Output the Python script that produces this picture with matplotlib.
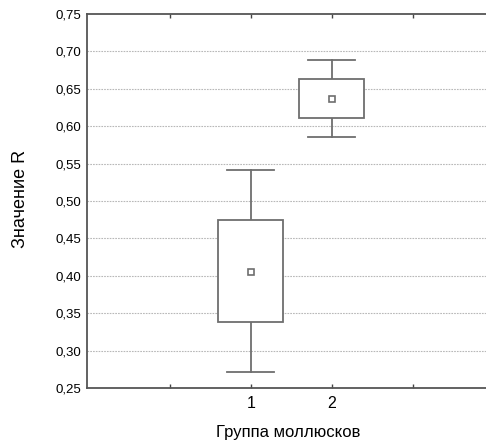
import matplotlib
matplotlib.use("Agg")
import matplotlib.pyplot as plt
from matplotlib.patches import Rectangle
from matplotlib.ticker import FixedLocator, FuncFormatter

plt.rcParams['font.family'] = ['Liberation Sans', 'DejaVu Sans']

# ── Данные ─────────────────────────────────────────────────────────────────────
groups     = [1, 2]
means      = [0.405, 0.637]
box_low    = [0.338, 0.611]
box_high   = [0.474, 0.663]
whisk_low  = [0.272, 0.586]
whisk_high = [0.541, 0.689]

LINE = "#6e6e6e"

fig = plt.figure(figsize=(4.86, 4.41), dpi=100)
ax = fig.add_axes([87 / 486, 1 - 388 / 441, 399 / 486, 374 / 441])

for x, m, b0, b1, w0, w1 in zip(groups, means, box_low, box_high, whisk_low, whisk_high):
    ax.plot([x, x], [w0, b0], color=LINE, lw=1.3, zorder=3)
    ax.plot([x, x], [b1, w1], color=LINE, lw=1.3, zorder=3)
    ax.plot([x - 0.29, x + 0.29], [w0, w0], color=LINE, lw=1.3, zorder=3)
    ax.plot([x - 0.29, x + 0.29], [w1, w1], color=LINE, lw=1.3, zorder=3)
    ax.add_patch(Rectangle((x - 0.4, b0), 0.8, b1 - b0, facecolor="white",
                           edgecolor=LINE, lw=1.3, zorder=3))
    ax.plot([x], [m], marker="s", ms=4, mfc="white", mec=LINE, mew=1.2, zorder=4)

ax.set_xlim(-1.02, 3.9)
ax.set_ylim(0.25, 0.75)

ax.xaxis.set_major_locator(FixedLocator([0, 1, 2, 3]))
ax.xaxis.set_major_formatter(FuncFormatter(lambda v, p: str(int(v)) if int(v) in groups else ""))
ax.yaxis.set_major_locator(FixedLocator([0.25 + 0.05 * i for i in range(11)]))
ax.yaxis.set_major_formatter(FuncFormatter(lambda v, p: f"{v:.2f}".replace(".", ",")))

ax.tick_params(axis="x", direction="in", length=3, width=1, color="#444444",
               top=True, labelsize=11.5, pad=6)
ax.tick_params(axis="y", length=0, labelsize=9.5, pad=4)

# пунктирная сетка (без крайних значений)
for y in [0.25 + 0.05 * i for i in range(1, 10)]:
    ax.axhline(y, color="#b8b8b8", lw=0.8, ls=(0, (1.5, 1)), zorder=1)

for side in ["left", "bottom", "top"]:
    ax.spines[side].set_color("#555555")
    ax.spines[side].set_linewidth(1.3)
ax.spines["right"].set_visible(False)

fig.text(21 / 486, 1 - 199 / 441, "Значение R", rotation=90,
         ha="center", va="center", fontsize=13)
fig.text(288 / 486, 1 - 433 / 441, "Группа моллюсков",
         ha="center", va="center", fontsize=12)

fig.savefig("out.png", dpi=100)
